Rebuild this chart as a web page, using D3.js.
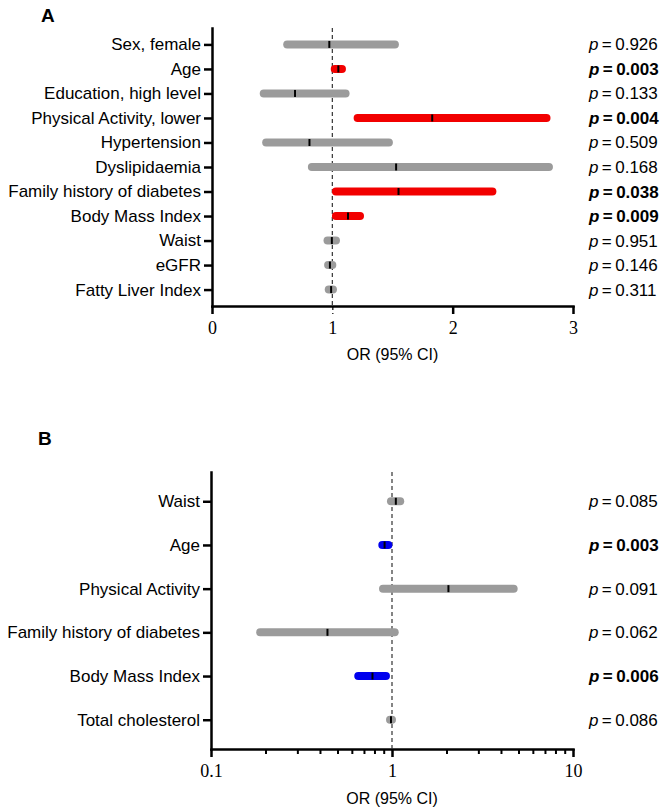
<!DOCTYPE html>
<html>
<head>
<meta charset="utf-8">
<script src="https://cdn.jsdelivr.net/npm/d3@7"></script>
<style>
  body { margin: 0; background: #fff; }
  svg { display: block; }
</style>
</head>
<body>
<div id="js-canvas"></div>
<script>
"use strict";

// Panel A: logistic model, linear OR axis.
const labelsA = ["Sex, female", "Age", "Education, high level",
  "Physical Activity, lower", "Hypertension", "Dyslipidaemia",
  "Family history of diabetes", "Body Mass Index", "Waist", "eGFR",
  "Fatty Liver Index"];
const orA = [0.975, 1.05, 0.69, 1.83, 0.81, 1.53, 1.55, 1.13, 0.996, 0.98, 0.99];
const lowA = [0.625, 1.02, 0.43, 1.21, 0.45, 0.83, 1.03, 1.03, 0.96, 0.965, 0.97];
const highA = [1.52, 1.08, 1.11, 2.78, 1.47, 2.80, 2.33, 1.23, 1.03, 1.0, 1.005];
const pA = ["0.926", "0.003", "0.133", "0.004", "0.509", "0.168", "0.038",
  "0.009", "0.951", "0.146", "0.311"];
const ticksA = [0, 1, 2, 3];

// Panel B: log OR axis.
const labelsB = ["Waist", "Age", "Physical Activity",
  "Family history of diabetes", "Body Mass Index", "Total cholesterol"];
const orB = [1.05, 0.91, 2.05, 0.44, 0.78, 0.987];
const lowB = [0.987, 0.884, 0.892, 0.187, 0.651, 0.975];
const highB = [1.11, 0.955, 4.70, 1.035, 0.926, 1.0];
const pB = ["0.085", "0.003", "0.091", "0.062", "0.006", "0.086"];
const ticksB = [0.1, 1, 10];
const minorTicksB = [0.2, 0.3, 0.4, 0.5, 0.6, 0.7, 0.8, 0.9,
  2, 3, 4, 5, 6, 7, 8, 9];

const sansFont = "'Liberation Sans', Arial, Helvetica, sans-serif";
const serifFont = "'Liberation Serif', 'Times New Roman', serif";

function createCanvas(width, height) {
  return d3.select("#js-canvas")
    .append("svg")
      .attr("width", width)
      .attr("height", height);
}

function buildRows(labels, or, low, high, p) {
  return labels.map(function (name, i) {
    return { name: name, or: or[i], low: low[i], high: high[i], p: p[i] };
  });
}

function barColor(d) {
  if (parseFloat(d.p) >= 0.05) return "#9b9b9b";
  return d.or > 1 ? "#f20000" : "#0000ee";
}

function styleAxis(g) {
  g.select(".domain").attr("stroke-width", 2.5).attr("stroke-linecap", "square");
  g.selectAll(".tick line").attr("stroke-width", 2.5);
}

function drawPanel(svg, opt) {
  const g = svg.append("g");
  const rows = buildRows(opt.labels, opt.or, opt.low, opt.high, opt.p);

  const y = d3.scalePoint()
    .domain(opt.labels)
    .range([opt.top, opt.bottom])
    .padding(0.67);

  // y axis with category labels
  const yAxis = g.append("g")
    .attr("transform", "translate(" + opt.left + ",0)")
    .call(d3.axisLeft(y).tickSize(8).tickSizeOuter(0).tickPadding(3));
  yAxis.selectAll("text")
    .attr("font-family", sansFont)
    .attr("font-size", 17)
    .attr("fill", "#000");
  styleAxis(yAxis);

  // x axis
  const xAxis = g.append("g")
    .attr("transform", "translate(0," + opt.bottom + ")")
    .call(d3.axisBottom(opt.x)
      .tickValues(opt.ticks)
      .tickFormat(d3.format("~g"))
      .tickSize(8)
      .tickSizeOuter(0)
      .tickPadding(7));
  xAxis.selectAll("text")
    .attr("font-family", serifFont)
    .attr("font-size", 18)
    .attr("fill", "#000");
  styleAxis(xAxis);
  if (opt.thinTickAtOne) {
    xAxis.selectAll(".tick line")
      .filter(function (d) { return d === 1; })
      .attr("stroke-width", 1.2)
      .attr("stroke-dasharray", "4,3");
  }

  if (opt.minor !== undefined) {
    const minorAxis = g.append("g")
      .attr("transform", "translate(0," + opt.bottom + ")")
      .call(d3.axisBottom(opt.x)
        .tickValues(opt.minor)
        .tickFormat("")
        .tickSize(5)
        .tickSizeOuter(0));
    minorAxis.select(".domain").remove();
    minorAxis.selectAll(".tick line").attr("stroke-width", 2);
  }

  // reference line at OR = 1
  g.append("line")
    .attr("x1", opt.x(1))
    .attr("x2", opt.x(1))
    .attr("y1", opt.top)
    .attr("y2", opt.bottom)
    .attr("stroke", "#333")
    .attr("stroke-width", 1.2)
    .attr("stroke-dasharray", "4,3");

  // confidence interval bars
  g.append("g")
    .selectAll("line")
    .data(rows)
    .enter()
    .append("line")
      .attr("x1", function (d) { return opt.x(d.low); })
      .attr("x2", function (d) { return opt.x(d.high); })
      .attr("y1", function (d) { return y(d.name); })
      .attr("y2", function (d) { return y(d.name); })
      .attr("stroke", barColor)
      .attr("stroke-width", 8)
      .attr("stroke-linecap", "round");

  // point estimates
  g.append("g")
    .selectAll("line")
    .data(rows)
    .enter()
    .append("line")
      .attr("x1", function (d) { return opt.x(d.or); })
      .attr("x2", function (d) { return opt.x(d.or); })
      .attr("y1", function (d) { return y(d.name) - 3.5; })
      .attr("y2", function (d) { return y(d.name) + 3.5; })
      .attr("stroke", "#000")
      .attr("stroke-width", 2);

  // p values
  const pText = g.append("g")
    .selectAll("text")
    .data(rows)
    .enter()
    .append("text")
      .attr("x", opt.pX)
      .attr("y", function (d) { return y(d.name) + 6; })
      .attr("font-family", sansFont)
      .attr("font-size", 17)
      .attr("font-weight", function (d) {
        return parseFloat(d.p) < 0.05 ? "bold" : "normal";
      });
  pText.append("tspan").attr("font-style", "italic").text("p");
  pText.append("tspan").text(function (d) { return "\u2009=\u2009" + d.p; });

  // axis title
  g.append("text")
    .attr("x", (opt.x.range()[0] + opt.x.range()[1]) / 2)
    .attr("y", opt.titleY)
    .attr("text-anchor", "middle")
    .attr("font-family", sansFont)
    .attr("font-size", 16)
    .text("OR (95% CI)");

  // panel letter
  g.append("text")
    .attr("x", opt.letterX)
    .attr("y", opt.letterY)
    .attr("font-family", sansFont)
    .attr("font-size", 19)
    .attr("font-weight", "bold")
    .text(opt.letter);
}

const canvas = createCanvas(665, 809);

drawPanel(canvas, {
  letter: "A", letterX: 41, letterY: 22,
  labels: labelsA, or: orA, low: lowA, high: highA, p: pA,
  x: d3.scaleLinear().domain([0, 3]).range([212, 573]),
  ticks: ticksA,
  left: 212, top: 28, bottom: 306,
  pX: 589, titleY: 360, thinTickAtOne: true
});

drawPanel(canvas, {
  letter: "B", letterX: 38, letterY: 445,
  labels: labelsB, or: orB, low: lowB, high: highB, p: pB,
  x: d3.scaleLog().domain([0.1, 10]).range([211, 573]),
  ticks: ticksB, minor: minorTicksB,
  left: 211, top: 472, bottom: 749,
  pX: 589, titleY: 804
});
</script>
</body>
</html>
